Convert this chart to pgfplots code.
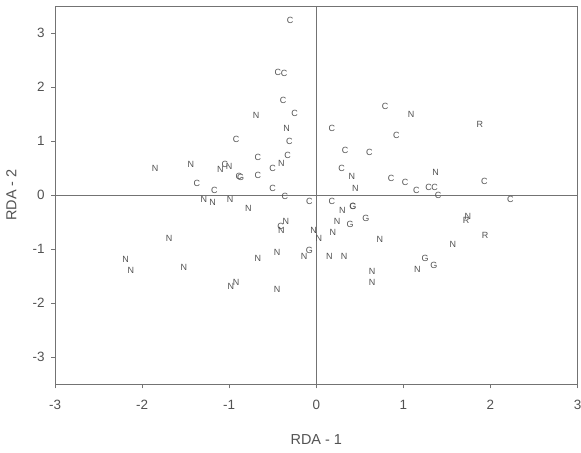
\documentclass[border=0pt]{standalone}
\usepackage{fontspec}
\setmainfont{Liberation Sans}
\usepackage{pgfplots}
\pgfplotsset{compat=1.18}
\usepackage{pgfplotstable}
\definecolor{ink}{gray}{0.32}
\definecolor{frame}{gray}{0.45}
\pgfplotstableread{
x y l
-0.30 3.23 C
-0.44 2.27 C
-0.37 2.26 C
-0.38 1.75 C
-0.25 1.51 C
-0.69 1.47 N
-0.34 1.23 N
-0.31 1.00 C
-0.92 1.04 C
0.79 1.64 C
1.09 1.50 N
1.88 1.30 R
0.18 1.23 C
0.92 1.11 C
-1.85 0.49 N
-1.44 0.57 N
-1.10 0.47 N
-1.05 0.57 C
-1.00 0.54 N
-0.67 0.69 C
-0.50 0.49 C
-0.40 0.59 N
-0.33 0.73 C
-0.89 0.34 C
-0.87 0.32 G
-0.67 0.37 C
-1.37 0.22 C
-1.17 0.08 C
-0.50 0.12 C
-0.36 -0.02 C
-0.08 -0.12 C
-1.29 -0.07 N
-1.19 -0.14 N
-0.99 -0.07 N
-0.78 -0.24 N
-0.35 -0.49 N
-0.41 -0.57 C
-0.40 -0.66 N
-1.69 -0.80 N
-0.03 -0.66 N
0.03 -0.80 N
-2.19 -1.19 N
-2.13 -1.39 N
-1.52 -1.33 N
-0.67 -1.17 N
-0.45 -1.06 N
-0.14 -1.14 N
-0.08 -1.03 G
-0.98 -1.68 N
-0.92 -1.61 N
-0.45 -1.74 N
0.33 0.83 C
0.61 0.80 C
0.29 0.50 C
0.41 0.35 N
0.45 0.12 N
0.86 0.31 C
1.02 0.24 C
1.37 0.42 N
1.15 0.09 C
1.29 0.14 C
1.36 0.15 C
1.40 -0.01 C
1.93 0.25 C
2.23 -0.07 C
0.18 -0.12 C
0.30 -0.28 N
0.42 -0.20 G
0.42 -0.20 C
0.24 -0.48 N
0.39 -0.54 G
0.57 -0.43 G
0.19 -0.69 N
0.73 -0.81 N
1.74 -0.39 N
1.72 -0.46 R
1.94 -0.74 R
1.57 -0.92 N
0.15 -1.14 N
0.32 -1.14 N
0.64 -1.41 N
0.64 -1.62 N
1.25 -1.17 G
1.35 -1.30 G
1.16 -1.37 N
}\pts
\begin{document}
\begin{tikzpicture}
\begin{axis}[
  scale only axis,
  width=522bp, height=378bp,
  xmin=-3, xmax=3, ymin=-3.5, ymax=3.5,
  xtick={-3,-2,-1,0,1,2,3},
  ytick={-3,-2,-1,0,1,2,3},
  tick align=outside,
  tick pos=left,
  major tick length=4bp,
  axis line style={frame, line width=0.9pt},
  tick style={frame, line width=0.8pt},
  /pgf/number format/assume math mode=true,
  ticklabel style={font=\fontsize{13.5}{15}\selectfont, text=ink},
  xticklabel style={yshift=-8bp},
  yticklabel style={xshift=-3bp},
  xlabel={RDA - 1},
  ylabel={RDA - 2},
  xlabel style={at={(axis description cs:0.5,-0.1466)}, anchor=center, font=\fontsize{14.5}{16}\selectfont, text=ink},
  ylabel style={at={(axis description cs:-0.0836,0.5)}, anchor=center, font=\fontsize{14.5}{16}\selectfont, text=ink},
  clip=false,
]
\draw[frame, line width=0.6pt] (axis cs:-3,0) -- (axis cs:3,0);
\draw[frame, line width=0.6pt] (axis cs:0,-3.5) -- (axis cs:0,3.5);
\addplot[only marks, mark=none, point meta=explicit symbolic,
  nodes near coords,
  nodes near coords style={anchor=center, inner sep=0pt, text=ink, font=\fontsize{9}{10}\selectfont}]
  table[x=x, y=y, meta=l] {\pts};
\end{axis}
\pgfresetboundingbox
\path ([xshift=-55bp,yshift=-68.5bp]current axis.south west) rectangle ([xshift=3.5bp,yshift=6bp]current axis.north east);
\end{tikzpicture}
\end{document}
